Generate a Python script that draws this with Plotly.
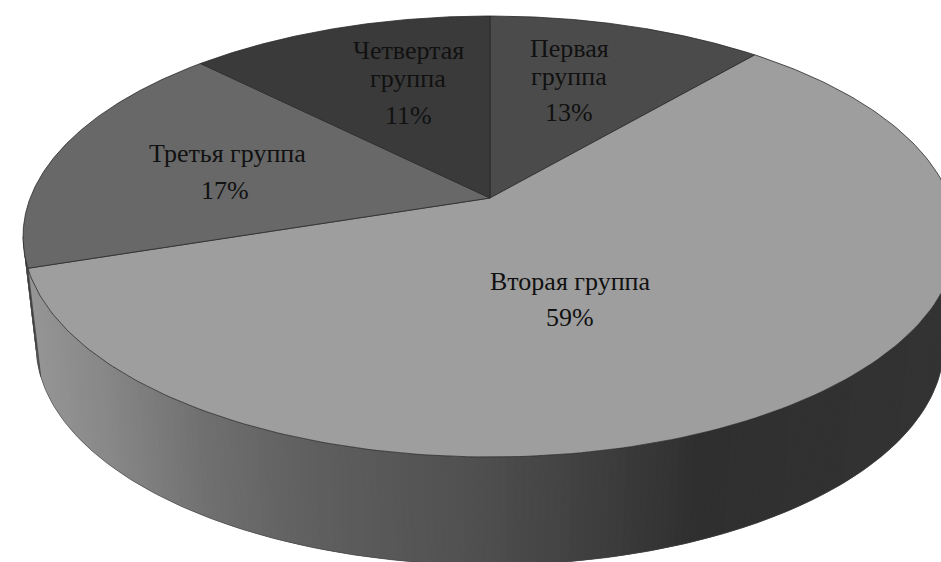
import numpy as np
import plotly.graph_objects as go

# Data
group_lines = [["Первая", "группа"], ["Вторая группа"], ["Третья группа"], ["Четвертая", "группа"]]
shares = [13, 59, 17, 11]
share_labels = ["13%", "59%", "17%", "11%"]
slice_colors = ["#4b4b4b", "#9e9e9e", "#686868", "#3a3a3a"]

# Label anchors (pixel-like axis units)
label_x = [569, 570, 227, 408]
label_y = [48, 281, 153, 50]
pct_x = [569, 570, 225, 408]
pct_y = [112, 317, 190, 115]

# View geometry of the tilted disc
APEX = (490.0, 198.0)
TOP = dict(cx=490.0, cy=236.5, a=467.0, b=220.5)
BOT = dict(cx=490.0, cy=345.0, a=454.0, b=220.0)
VIEW_A, VIEW_D, VIEW_E = 2.13, 0.15, 0.09
grad_x = [23, 100, 200, 300, 470, 600, 700, 941]
grad_v = [150, 136, 112, 96, 80, 62, 47, 51]


def rim_point(theta):
    s, c = np.sin(theta), np.cos(theta)
    dx = VIEW_A * s
    dy = -(c + VIEW_D * s + VIEW_E * s * c)
    px = (APEX[0] - TOP["cx"]) / TOP["a"]
    py = (APEX[1] - TOP["cy"]) / TOP["b"]
    ux, uy = dx / TOP["a"], dy / TOP["b"]
    qa = ux * ux + uy * uy
    qb = 2 * (px * ux + py * uy)
    qc = px * px + py * py - 1
    t = (-qb + np.sqrt(qb * qb - 4 * qa * qc)) / (2 * qa)
    return APEX[0] + t * dx, APEX[1] + t * dy


def ring(e, tau):
    return e["cx"] + e["a"] * np.cos(tau), e["cy"] + e["b"] * np.sin(tau)


fig = go.Figure()

# Side wall: overlapping strips painted left to right so no seams show
cum = np.cumsum([0] + shares) / sum(shares) * 2 * np.pi
x2, y2 = rim_point(cum[2])
tau_split = np.pi - np.arcsin((y2 - TOP["cy"]) / TOP["b"])
taus = np.linspace(np.pi, 0, 181)
for k in range(len(taus) - 1):
    t0, t1 = taus[k], taus[min(k + 2, len(taus) - 1)]
    tm = 0.5 * (taus[k] + taus[k + 1])
    tx, ty = ring(TOP, np.linspace(t0, t1, 4))
    bx, by = ring(BOT, np.linspace(t1, t0, 4))
    v = int(round(np.interp(ring(TOP, tm)[0], grad_x, grad_v)))
    col = f"rgb({v},{v},{v})" if tm < tau_split else "#555555"
    fig.add_trace(go.Scatter(
        x=np.r_[tx, bx, tx[0]], y=np.r_[ty, by, ty[0]],
        mode="lines", fill="toself", fillcolor=col,
        line=dict(width=0), hoverinfo="skip", showlegend=False))

# Side outlines
tt = np.linspace(np.pi, 0, 300)
bx, by = ring(BOT, tt)
fig.add_trace(go.Scatter(x=bx, y=by, mode="lines", line=dict(color="#444444", width=0.6),
                         hoverinfo="skip", showlegend=False))
sx0, sy0 = ring(TOP, np.array([np.pi, tau_split]))
sx1, sy1 = ring(BOT, np.array([np.pi, tau_split]))
for i in range(2):
    fig.add_trace(go.Scatter(x=[sx0[i], sx1[i]], y=[sy0[i], sy1[i]], mode="lines",
                             line=dict(color="#333333", width=0.7),
                             hoverinfo="skip", showlegend=False))

# Slices
for i in range(len(shares)):
    th = np.linspace(cum[i], cum[i + 1], 200)
    rx, ry = rim_point(th)
    fig.add_trace(go.Scatter(
        x=np.r_[APEX[0], rx, APEX[0]], y=np.r_[APEX[1], ry, APEX[1]],
        mode="lines", fill="toself", fillcolor=slice_colors[i],
        line=dict(color="#2a2a2a", width=0.8),
        hoverinfo="skip", showlegend=False))

# Labels
FONT = dict(family="Liberation Serif", size=26, color="#111111")
LINE_H = 28
for i, lines in enumerate(group_lines):
    for j, line in enumerate(lines):
        fig.add_annotation(x=label_x[i], y=label_y[i] + j * LINE_H, text=line,
                           showarrow=False, font=FONT, xanchor="center", yanchor="middle")
    fig.add_annotation(x=pct_x[i], y=pct_y[i], text=share_labels[i],
                       showarrow=False, font=FONT, xanchor="center", yanchor="middle")

fig.update_layout(
    width=941, height=562, margin=dict(l=0, r=0, t=0, b=0),
    paper_bgcolor="white", plot_bgcolor="white", showlegend=False,
    xaxis=dict(range=[0, 941], visible=False, fixedrange=True),
    yaxis=dict(range=[562, 0], visible=False, fixedrange=True),
)
fig.write_html("out.html", config={"displayModeBar": False},
               post_script="document.body.style.margin='0';document.body.style.overflow='hidden';")
